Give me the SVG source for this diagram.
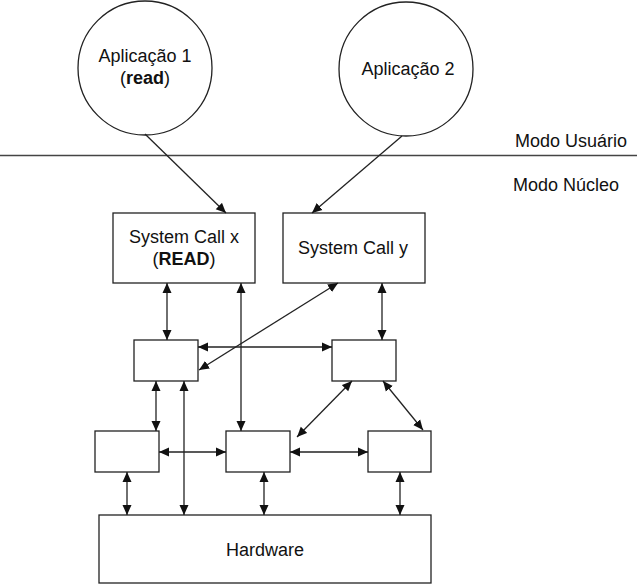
<svg xmlns="http://www.w3.org/2000/svg" width="637" height="585" viewBox="0 0 637 585">
<style>
.n{fill:#fff;stroke:#222;stroke-width:1.3}
.t{font-family:"Liberation Sans",Arial,sans-serif;font-size:18px;fill:#111;text-anchor:middle}
.c{stroke:#222;stroke-width:1.3;fill:none;marker-end:url(#a)}
.d{stroke:#222;stroke-width:1.3;fill:none;marker-start:url(#a);marker-end:url(#a)}
</style>
<defs>
<marker id="a" viewBox="0 0 10 10" refX="10" refY="5" markerWidth="10" markerHeight="10" markerUnits="userSpaceOnUse" orient="auto-start-reverse">
<path d="M0,0.5 L10,5 L0,9.5 Z" fill="#111"/>
</marker>
</defs>
<rect width="637" height="585" fill="#fff"/>
<line x1="0" y1="155.5" x2="637" y2="155.5" stroke="#444" stroke-width="1.5"/>
<text class="t" x="571" y="147" style="text-anchor:middle">Modo Usuário</text>
<text class="t" x="566" y="191">Modo Núcleo</text>

<g id="app1"><circle class="n" cx="145" cy="68" r="67"/><text class="t" x="145" y="62">Aplicação 1</text><text class="t" x="145" y="84">(<tspan font-weight="bold">read</tspan>)</text></g>
<g id="app2"><circle class="n" cx="406" cy="69" r="67"/><text class="t" x="408" y="75">Aplicação 2</text></g>
<g id="scx"><rect class="n" x="113" y="213" width="142" height="70"/><text class="t" x="184" y="243">System Call x</text><text class="t" x="184" y="265">(<tspan font-weight="bold">READ</tspan>)</text></g>
<g id="scy"><rect class="n" x="283" y="213" width="142" height="70"/><text class="t" x="353" y="254">System Call y</text></g>
<g id="m1"><rect class="n" x="134" y="340" width="64" height="41"/></g>
<g id="m2"><rect class="n" x="332" y="340" width="64" height="41"/></g>
<g id="b1"><rect class="n" x="95" y="431" width="64" height="41"/></g>
<g id="b2"><rect class="n" x="226" y="431" width="64" height="41"/></g>
<g id="b3"><rect class="n" x="368" y="431" width="63" height="41"/></g>
<g id="hw"><rect class="n" x="99" y="515" width="332" height="68"/><text class="t" x="265" y="556">Hardware</text></g>

<g id="connectors">
<line class="c" x1="145" y1="134" x2="226" y2="213"/>
<line class="c" x1="402" y1="136" x2="312" y2="213"/>
<line class="d" x1="167" y1="283" x2="167" y2="340"/>
<line class="d" x1="241" y1="283" x2="241" y2="431"/>
<line class="d" x1="338" y1="283" x2="199" y2="370"/>
<line class="d" x1="382" y1="283" x2="382" y2="340"/>
<line class="d" x1="198" y1="347" x2="332" y2="347"/>
<line class="d" x1="156" y1="381" x2="156" y2="431"/>
<line class="d" x1="184" y1="381" x2="184" y2="515"/>
<line class="d" x1="352" y1="381" x2="297" y2="437"/>
<line class="d" x1="383" y1="381" x2="423" y2="430"/>
<line class="d" x1="159" y1="452" x2="226" y2="452"/>
<line class="d" x1="290" y1="452" x2="368" y2="452"/>
<line class="d" x1="127" y1="472" x2="127" y2="515"/>
<line class="d" x1="264" y1="472" x2="264" y2="515"/>
<line class="d" x1="400" y1="472" x2="400" y2="515"/>
</g>
</svg>
